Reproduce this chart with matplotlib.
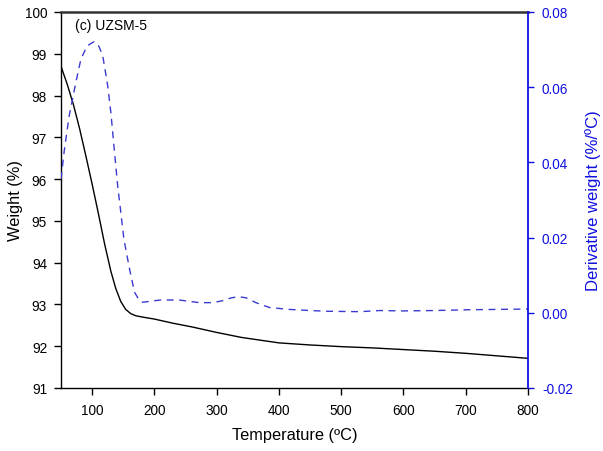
import matplotlib
matplotlib.use("Agg")
import matplotlib.pyplot as plt

plt.rcParams['font.family'] = ['Liberation Sans', 'DejaVu Sans']

# Weight curve (Temperature °C, weight %)
w_temp = [50, 60, 70, 80, 90, 100, 110, 120, 130, 138, 146, 154, 162, 170, 180,
          200, 230, 261, 300, 340, 400, 450, 500, 550, 600, 650, 700, 750, 800]
w_val = [98.70, 98.27, 97.78, 97.20, 96.55, 95.88, 95.18, 94.45, 93.80, 93.38, 93.07,
         92.88, 92.78, 92.73, 92.70, 92.65, 92.55, 92.46, 92.33, 92.21, 92.08,
         92.03, 91.99, 91.96, 91.92, 91.88, 91.83, 91.77, 91.71]

# Derivative weight curve (Temperature °C, %/°C)
d_temp = [50, 55, 63, 74, 82, 92, 103, 110, 117, 125, 130, 135, 141, 146, 151, 160,
          168, 175, 181, 195, 210, 240, 272, 294, 309, 322, 334, 347, 363, 385, 417,
          450, 481, 530, 562, 600, 650, 700, 750, 800]
d_val = [0.0356, 0.0428, 0.0523, 0.0614, 0.0675, 0.0710, 0.0721, 0.0712, 0.0684, 0.0604,
         0.0534, 0.0444, 0.0338, 0.0268, 0.0196, 0.0117, 0.0055, 0.0035, 0.0028, 0.0031,
         0.0034, 0.0034, 0.0027, 0.0027, 0.0032, 0.0039, 0.0043, 0.0040, 0.0027, 0.0014,
         0.0009, 0.0006, 0.0004, 0.0003, 0.0006, 0.0005, 0.0006, 0.0008, 0.0009, 0.0010]

x_ticks = [100, 200, 300, 400, 500, 600, 700, 800]
y_ticks = [91, 92, 93, 94, 95, 96, 97, 98, 99, 100]
y2_ticks = [-0.02, 0.00, 0.02, 0.04, 0.06, 0.08]

blue = '#1010e0'
dash_blue = '#3a3ad0'

fig = plt.figure(figsize=(6.03, 4.52), dpi=100)
ax = fig.add_axes([61/603, 1-389/452, (528-61)/603, (389-13)/452])
ax.plot(w_temp, w_val, color='black', lw=1.0)
ax.set_xlim(50, 800)
ax.set_ylim(91, 100)
ax.set_xticks(x_ticks)
ax.set_yticks(y_ticks)
ax.tick_params(axis='both', direction='out', length=5, width=1, labelsize=9.8, colors='black')
ax.tick_params(axis='x', pad=6)
ax.tick_params(axis='y', pad=5)
ax.set_xlabel('Temperature (ºC)', fontsize=11.8, labelpad=7)
ax.set_ylabel('Weight (%)', fontsize=11.8, labelpad=1)
ax.text(72, 99.68, '(c) UZSM-5', fontsize=10, va='center', ha='left')
for s in ['left', 'bottom']:
    ax.spines[s].set_linewidth(1.0)
ax.spines['top'].set_linewidth(1.8)
ax.spines['top'].set_color('#333333')
ax.spines['right'].set_visible(False)

ax2 = ax.twinx()
ax2.plot(d_temp, d_val, color=dash_blue, lw=1.0, linestyle=(0, (5, 4)))
ax2.set_ylim(-0.02, 0.08)
ax2.set_yticks(y2_ticks)
ax2.set_yticklabels([f'{v:.2f}' for v in y2_ticks])
ax2.tick_params(axis='y', direction='out', length=4, width=1, pad=6, labelsize=9.8, colors=blue)
ax2.set_ylabel('Derivative weight (%/ºC)', fontsize=12, color=blue, labelpad=9)
ax2.spines['right'].set_color(blue)
ax2.spines['right'].set_linewidth(1.3)
ax2.spines['top'].set_visible(False)
ax2.spines['left'].set_visible(False)
ax2.spines['bottom'].set_visible(False)

fig.savefig('out.png', dpi=100)
